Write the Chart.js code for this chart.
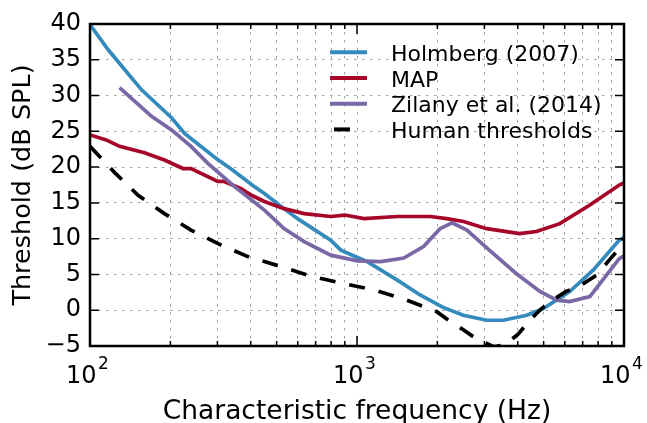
<!DOCTYPE html>
<html>
<head>
<meta charset="utf-8">
<script src="https://cdn.jsdelivr.net/npm/chart.js@4.4.1/dist/chart.umd.min.js"></script>
<style>
  html, body { margin: 0; padding: 0; background: #fff; }
</style>
</head>
<body>
<canvas id="chart" width="647" height="423"></canvas>
<script>
// values (frequency in Hz, threshold in dB SPL)
const holmbergFreq = [100, 117, 135, 156, 202, 226, 297, 336, 412, 450, 533, 599, 797, 870, 1000, 1092, 1416, 1730, 2100, 2500, 3060, 3530, 4320, 4970, 6260, 7660, 9600, 10000];
const holmbergDb   = [39.9, 36.4, 33.6, 30.8, 26.9, 24.7, 21.2, 19.8, 17.3, 16.3, 14.2, 12.8, 9.8, 8.4, 7.4, 6.8, 4.2, 2.1, 0.4, -0.7, -1.4, -1.4, -0.7, 0.2, 2.6, 5.6, 9.8, 10.2];

const mapFreq = [100, 115, 129, 160, 190, 223, 239, 301, 318, 368, 401, 450, 533, 634, 797, 900, 1062, 1416, 1882, 2168, 2506, 3059, 4063, 4700, 5750, 7450, 9600, 10000];
const mapDb   = [24.5, 23.8, 22.9, 22.0, 21.0, 19.8, 19.8, 18.0, 18.0, 17.0, 16.1, 15.2, 14.2, 13.5, 13.1, 13.3, 12.8, 13.1, 13.1, 12.8, 12.4, 11.4, 10.7, 11.0, 12.1, 14.7, 17.5, 17.8];

const zilanyFreq = [129, 170, 202, 239, 277, 347, 450, 533, 634, 797, 1003, 1228, 1497, 1775, 2046, 2270, 2580, 3130, 3955, 4860, 5600, 6255, 7450, 9600, 10000];
const zilanyDb   = [31.1, 27.1, 25.2, 22.9, 20.5, 17.3, 14.0, 11.4, 9.6, 7.7, 6.9, 6.8, 7.3, 8.9, 11.4, 12.2, 11.2, 8.4, 5.1, 2.6, 1.4, 1.2, 1.9, 7.2, 7.6];

const humanFreq = [100, 124, 151, 190, 239, 310, 401, 450, 519, 680, 895, 1170, 1540, 1990, 2200, 2470, 2800, 3250, 3600, 4020, 4440, 4900, 5400, 6050, 6900, 7900, 8800, 9500, 10000];
const humanDb   = [22.9, 19.2, 16.1, 13.5, 11.2, 9.1, 7.3, 6.8, 6.1, 4.7, 3.7, 2.8, 1.4, -0.2, -1.4, -2.6, -4.0, -5.1, -4.8, -3.3, -1.4, 0.2, 1.4, 2.6, 3.5, 4.9, 7.0, 8.4, 10.0];

const seriesLabels = ['Holmberg (2007)', 'MAP', 'Zilany et al. (2014)', 'Human thresholds'];

// x ticks: decades get a "10^n" label, the others only a grid line
const decadeTicks = [100, 1000, 10000];
const decadeBase = ['10', '10', '10'];
const decadeExp = ['2', '3', '4'];
const xTickValues = [];
decadeTicks.slice(0, 2).forEach(d => {
    for (let m = 1; m < 10; m++) xTickValues.push(d * m);
});
xTickValues.push(10000);

const FONT = '"DejaVu Sans", sans-serif';

function toPoints(freq, db) {
    return freq.map((f, i) => ({ x: f, y: db[i] }));
}

// inward ticks on all four sides, the black frame and the 10^n labels
const frameTicks = {
    id: 'frameTicks',
    afterDraw(chart) {
        const { ctx, chartArea: a, scales: { x, y } } = chart;
        ctx.save();
        ctx.strokeStyle = '#000';
        ctx.lineWidth = 1.5;
        ctx.beginPath();
        x.ticks.forEach(t => {
            const px = x.getPixelForValue(t.value);
            const len = decadeTicks.includes(t.value) ? 10 : 5;
            ctx.moveTo(px, a.bottom); ctx.lineTo(px, a.bottom - len);
            ctx.moveTo(px, a.top); ctx.lineTo(px, a.top + len);
        });
        y.ticks.forEach(t => {
            const py = y.getPixelForValue(t.value);
            ctx.moveTo(a.left, py); ctx.lineTo(a.left + 9, py);
            ctx.moveTo(a.right, py); ctx.lineTo(a.right - 9, py);
        });
        ctx.stroke();
        ctx.lineWidth = 2.5;
        ctx.strokeRect(a.left, a.top, a.right - a.left, a.bottom - a.top);

        ctx.fillStyle = '#000';
        ctx.textBaseline = 'alphabetic';
        ctx.textAlign = 'left';
        decadeTicks.forEach((d, i) => {
            const px = x.getPixelForValue(d) - 24;
            ctx.font = '24px ' + FONT;
            ctx.fillText(decadeBase[i], px, a.bottom + 37);
            const w = ctx.measureText(decadeBase[i]).width;
            ctx.font = '17px ' + FONT;
            ctx.fillText(decadeExp[i], px + w + 1.5, a.bottom + 23);
        });
        ctx.restore();
    }
};

// legend without frame, inside the plot, upper right
const legendInside = {
    id: 'legendInside',
    afterDraw(chart) {
        const ctx = chart.ctx;
        const top = 52.3, row = 25.7, lineX = 330, lineLen = 37, textX = 391;
        ctx.save();
        ctx.font = '22px ' + FONT;
        ctx.textBaseline = 'alphabetic';
        chart.data.datasets.forEach((ds, i) => {
            const yy = top + i * row;
            const dash = ds.borderDash || [];
            ctx.strokeStyle = ds.borderColor;
            ctx.lineWidth = ds.borderWidth + 0.3;
            ctx.setLineDash(dash);
            ctx.beginPath();
            if (dash.length) {
                ctx.moveTo(lineX + 4, yy); ctx.lineTo(lineX + 4 + dash[0], yy);
            } else {
                ctx.moveTo(lineX, yy); ctx.lineTo(lineX + lineLen, yy);
            }
            ctx.stroke();
            ctx.setLineDash([]);
            ctx.fillStyle = '#000';
            ctx.fillText(ds.label, textX, yy + 8.5);
        });
        ctx.restore();
    }
};

new Chart(document.getElementById('chart'), {
    type: 'line',
    data: {
        datasets: [
            { label: seriesLabels[0], data: toPoints(holmbergFreq, holmbergDb), borderColor: '#348ABD', borderWidth: 3.7, order: 3 },
            { label: seriesLabels[1], data: toPoints(mapFreq, mapDb), borderColor: '#A60628', borderWidth: 3.7, order: 2 },
            { label: seriesLabels[2], data: toPoints(zilanyFreq, zilanyDb), borderColor: '#7A68A6', borderWidth: 3.7, order: 1 },
            { label: seriesLabels[3], data: toPoints(humanFreq, humanDb), borderColor: '#000000', borderWidth: 3.7, borderDash: [16, 14], order: 0 }
        ]
    },
    options: {
        responsive: false,
        animation: false,
        devicePixelRatio: 1,
        layout: { padding: { left: 0, right: 23, top: 24, bottom: 0 } },
        elements: {
            point: { radius: 0 },
            line: { tension: 0, fill: false, borderCapStyle: 'butt' }
        },
        plugins: {
            legend: { display: false },
            tooltip: { enabled: false }
        },
        scales: {
            x: {
                type: 'logarithmic',
                min: 100,
                max: 10000,
                afterBuildTicks: axis => { axis.ticks = xTickValues.map(v => ({ value: v })); },
                afterFit: axis => { axis.height = 77; axis.paddingLeft = 0; axis.paddingRight = 0; },
                ticks: {
                    autoSkip: false,
                    maxRotation: 0,
                    callback: () => ''
                },
                grid: { color: '#a0a0a0', lineWidth: 1, drawTicks: false },
                border: { display: false, dash: [2.5, 5.5] },
                title: {
                    display: true,
                    text: 'Characteristic frequency (Hz)',
                    color: '#000',
                    font: { family: FONT, size: 26.5, lineHeight: 0.8 },
                    padding: { top: 0, bottom: 0 }
                }
            },
            y: {
                min: -5,
                max: 40,
                afterFit: axis => { axis.width = 90; axis.paddingTop = 0; axis.paddingBottom = 0; },
                ticks: {
                    stepSize: 5,
                    padding: 9,
                    color: '#000',
                    font: { family: FONT, size: 24 },
                    callback: value => String(value).replace('-', '\u2212')
                },
                grid: { color: '#a0a0a0', lineWidth: 1, drawTicks: false },
                border: { display: false, dash: [2.5, 5.5] },
                title: {
                    display: true,
                    text: 'Threshold (dB SPL)',
                    color: '#000',
                    font: { family: FONT, size: 25.5, lineHeight: 0.8 },
                    padding: { top: 13.5, bottom: 0 }
                }
            }
        }
    },
    plugins: [frameTicks, legendInside]
});
</script>
</body>
</html>
